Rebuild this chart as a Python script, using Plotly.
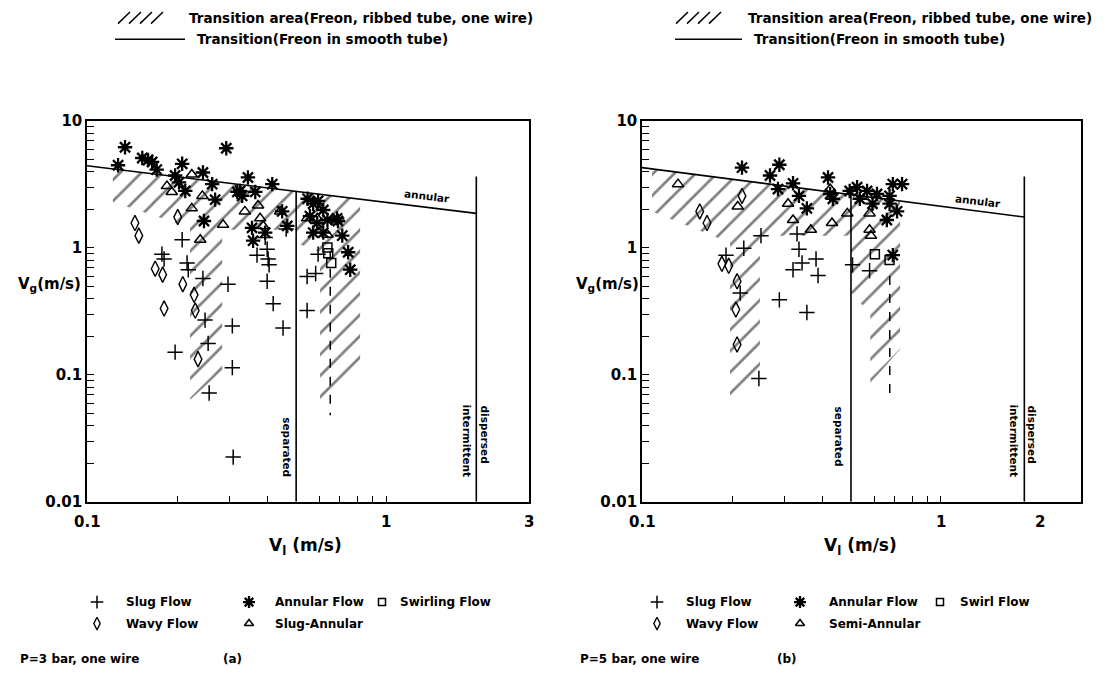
import math
import plotly.graph_objects as go

W, H = 1108, 689
FONT = "DejaVu Sans"

# ---------------- panel (a): P=3 bar ----------------
a_slug_x = [0.208, 0.178, 0.181, 0.216, 0.218, 0.244, 0.296, 0.370, 0.394, 0.400, 0.403, 0.406, 0.400, 0.419,
            0.463, 0.544, 0.581, 0.544, 0.592, 0.306, 0.452, 0.248, 0.254, 0.197, 0.306, 0.256, 0.308]
a_slug_y = [1.16, 0.893, 0.818, 0.762, 0.674, 0.575, 0.518, 0.877, 1.21, 0.975, 0.818, 0.736, 0.546, 0.364,
            1.41, 0.596, 0.628, 0.321, 0.893, 0.243, 0.234, 0.270, 0.177, 0.151, 0.114, 0.072, 0.0225]
a_annular_x = [0.134, 0.127, 0.153, 0.160, 0.165, 0.171, 0.208, 0.292, 0.197, 0.203, 0.213, 0.244, 0.262, 0.268,
               0.246, 0.318, 0.330, 0.325, 0.345, 0.365, 0.416, 0.356, 0.359, 0.394, 0.449, 0.467, 0.546, 0.570,
               0.592, 0.616, 0.556, 0.588, 0.636, 0.685, 0.690, 0.713, 0.570, 0.616, 0.746, 0.758]
a_annular_y = [6.21, 4.48, 5.11, 4.93, 4.76, 4.14, 4.60, 6.10, 3.72, 3.29, 2.81, 3.93, 3.18, 2.40,
               1.63, 2.76, 2.57, 2.81, 3.59, 2.76, 3.18, 1.44, 1.14, 1.32, 1.94, 1.49, 2.44, 2.23,
               2.35, 1.99, 1.78, 1.57, 1.66, 1.71, 1.63, 1.25, 1.32, 1.32, 0.925, 0.674]
a_slugann_x = [0.224, 0.185, 0.192, 0.243, 0.224, 0.285, 0.239, 0.337, 0.373, 0.379, 0.388, 0.442, 0.544, 0.588, 0.636]
a_slugann_y = [3.79, 3.07, 2.76, 2.57, 2.05, 1.52, 1.16, 1.94, 2.16, 1.71, 1.49, 1.94, 1.71, 1.71, 1.27]
a_wavy_x = [0.1446, 0.149, 0.201, 0.169, 0.179, 0.209, 0.181, 0.228, 0.230, 0.235]
a_wavy_y = [1.57, 1.25, 1.75, 0.686, 0.616, 0.518, 0.333, 0.427, 0.321, 0.133]
a_swirl_x = [0.636, 0.640, 0.655]
a_swirl_y = [1.01, 0.91, 0.762]

a_trans_smooth_x = [0.1, 2.0]
a_trans_smooth_y = [4.44, 1.87]
a_separated_x = [0.5, 0.5]
a_separated_y = [2.8, 0.01]
a_intermittent_x = [2.0, 2.0]
a_intermittent_y = [3.66, 0.01]
a_dashed_x = [0.65, 0.65]
a_dashed_y = [0.95, 0.048]
a_hatch1_x = [0.122, 0.5, 0.5, 0.283, 0.283, 0.221, 0.221, 0.122]
a_hatch1_y = [4.19, 2.79, 1.39, 1.39, 0.108, 0.0636, 1.45, 2.3]
a_hatch2_x = [0.5, 0.818, 0.818, 0.601, 0.601, 0.5]
a_hatch2_y = [2.79, 2.42, 0.1157, 0.0572, 0.925, 1.10]

# ---------------- panel (b): P=5 bar ----------------
b_slug_x = [0.250, 0.191, 0.219, 0.213, 0.330, 0.335, 0.343, 0.320, 0.382, 0.388, 0.288, 0.356, 0.506, 0.577, 0.246]
b_slug_y = [1.25, 0.877, 0.993, 0.442, 1.29, 0.975, 0.762, 0.674, 0.818, 0.607, 0.390, 0.310, 0.736, 0.662, 0.0937]
b_annular_x = [0.216, 0.288, 0.268, 0.285, 0.320, 0.335, 0.356, 0.419, 0.426, 0.435, 0.524, 0.566, 0.611, 0.673,
               0.690, 0.741, 0.673, 0.713, 0.659, 0.690, 0.495, 0.535, 0.590]
b_annular_y = [4.29, 4.52, 3.72, 2.91, 3.23, 2.57, 2.05, 3.59, 2.66, 2.44, 3.01, 2.81, 2.66, 2.57,
               3.18, 3.18, 2.23, 1.94, 1.66, 0.877, 2.81, 2.44, 2.23]
b_semiann_x = [0.132, 0.209, 0.308, 0.320, 0.367, 0.426, 0.432, 0.486, 0.577, 0.577, 0.583]
b_semiann_y = [3.18, 2.12, 2.23, 1.66, 1.39, 2.91, 1.57, 1.87, 1.87, 1.39, 1.25]
b_wavy_x = [0.156, 0.165, 0.216, 0.185, 0.195, 0.208, 0.206, 0.208]
b_wavy_y = [1.94, 1.57, 2.57, 0.749, 0.723, 0.546, 0.327, 0.1736]
b_swirl_x = [0.601, 0.673]
b_swirl_y = [0.893, 0.804]

b_trans_smooth_x = [0.1, 1.9]
b_trans_smooth_y = [4.29, 1.75]
b_separated_x = [0.5, 0.5]
b_separated_y = [2.62, 0.01]
b_intermittent_x = [1.9, 1.9]
b_intermittent_y = [3.66, 0.01]
b_dashed_x = [0.674, 0.674]
b_dashed_y = [0.6, 0.07]
b_hatch1_x = [0.108, 0.5, 0.5, 0.248, 0.248, 0.197, 0.197, 0.108]
b_hatch1_y = [4.19, 2.62, 1.25, 1.25, 0.106, 0.066, 1.10, 1.94]
b_hatch2_x = [0.5, 0.73, 0.73, 0.58, 0.58, 0.5]
b_hatch2_y = [2.62, 2.33, 0.159, 0.0858, 0.30, 0.45]

a_xtick_vals = [0.1, 1, 3]
a_xtick_text = ["0.1", "1", "3"]
b_xtick_vals = [0.1, 1, 2.15]
b_xtick_text = ["0.1", "1", "2"]
ytick_vals = [0.01, 0.1, 1, 10]
ytick_text = ["0.01", "0.1", "1", "10"]
x_tickmarks = [0.1, 0.2, 0.3, 0.4, 0.6, 0.7, 0.8, 0.9, 1]
y_minor = [m * d for d in (0.01, 0.1, 1) for m in range(2, 10)]

a_legend = [["Slug Flow", "Annular Flow", "Swirling Flow"], ["Wavy Flow", "Slug-Annular", ""]]
b_legend = [["Slug Flow", "Annular Flow", "Swirl Flow"], ["Wavy Flow", "Semi-Annular", ""]]

STY = {
    "slug": dict(symbol="cross-thin-open", size=11, line=dict(width=1.5, color="black"), color="black"),
    "annular": dict(symbol="asterisk-open", size=12, line=dict(width=2.3, color="black"), color="black"),
    "slugann": dict(symbol="triangle-up-open", size=10, line=dict(width=1.5, color="black"), color="black"),
    "wavy": dict(symbol="diamond-tall-open", size=11, line=dict(width=1.4, color="black"), color="black"),
    "swirl": dict(symbol="square-open", size=9, line=dict(width=1.5, color="black"), color="black"),
}

fig = go.Figure()


def panel(xa, ya, hatches, lines, dashed, series):
    for hx, hy in hatches:
        fig.add_trace(go.Scatter(x=hx, y=hy, xaxis=xa, yaxis=ya, mode="lines", fill="toself",
                                 fillcolor="rgba(0,0,0,0)", line=dict(width=0),
                                 fillpattern=dict(shape="/", size=15, solidity=0.18, fgcolor="black",
                                                  bgcolor="white"),
                                 hoverinfo="skip", showlegend=False))
    for lx, ly in lines:
        fig.add_trace(go.Scatter(x=lx, y=ly, xaxis=xa, yaxis=ya, mode="lines",
                                 line=dict(color="black", width=1.6), showlegend=False))
    fig.add_trace(go.Scatter(x=dashed[0], y=dashed[1], xaxis=xa, yaxis=ya, mode="lines",
                             line=dict(color="black", width=1.5, dash="dash"), showlegend=False))
    for key, sx, sy in series:
        fig.add_trace(go.Scatter(x=sx, y=sy, xaxis=xa, yaxis=ya, mode="markers",
                                 marker=STY[key], showlegend=False))


panel("x", "y", [(a_hatch1_x, a_hatch1_y), (a_hatch2_x, a_hatch2_y)],
      [(a_trans_smooth_x, a_trans_smooth_y), (a_separated_x, a_separated_y), (a_intermittent_x, a_intermittent_y)],
      (a_dashed_x, a_dashed_y),
      [("wavy", a_wavy_x, a_wavy_y), ("slugann", a_slugann_x, a_slugann_y), ("swirl", a_swirl_x, a_swirl_y),
       ("slug", a_slug_x, a_slug_y), ("annular", a_annular_x, a_annular_y)])
panel("x2", "y2", [(b_hatch1_x, b_hatch1_y), (b_hatch2_x, b_hatch2_y)],
      [(b_trans_smooth_x, b_trans_smooth_y), (b_separated_x, b_separated_y), (b_intermittent_x, b_intermittent_y)],
      (b_dashed_x, b_dashed_y),
      [("wavy", b_wavy_x, b_wavy_y), ("slugann", b_semiann_x, b_semiann_y), ("swirl", b_swirl_x, b_swirl_y),
       ("slug", b_slug_x, b_slug_y), ("annular", b_annular_x, b_annular_y)])


def P(px, py):
    return px / W, 1 - py / H


annotations = []


def txt(px, py, s, size=13, xanchor="center", angle=0):
    ax, ay = P(px, py)
    annotations.append(dict(x=ax, y=ay, xref="paper", yref="paper", text=s, showarrow=False,
                            xanchor=xanchor, yanchor="middle", textangle=angle,
                            font=dict(family=FONT, size=size, color="black")))


# bottom legends: symbols on a pixel-space overlay axis, labels as text
leg_keys = [["slug", "annular", "swirl"], ["wavy", "slugann", None]]
for (mx, tx, labels, row_y) in [
    ([97, 249, 382], [124, 273, 398], a_legend, [609, 631]),
    ([657, 800, 940], [684, 827, 958], b_legend, [609, 631]),
]:
    for r in range(2):
        for c in range(3):
            k = leg_keys[r][c]
            if k is None:
                continue
            fig.add_trace(go.Scatter(x=[mx[c]], y=[row_y[r]], xaxis="x3", yaxis="y3", mode="markers",
                                     marker=dict(STY[k], size=STY[k]["size"] - 2), showlegend=False))
            txt(tx[c], row_y[r], "<b>%s</b>" % labels[r][c], 12, "left")

# top legends
shapes = []
for hx, lx0, lx1, t1, t2 in [(118, 115, 185, 187, 195), (676, 675, 742, 746, 752)]:
    for i in range(4):
        x0, y0 = P(hx + 11 * i, 15)
        x1, y1 = P(hx + 12 + 11 * i, 3)
        shapes.append(dict(type="line", xref="paper", yref="paper", x0=x0, y0=y0, x1=x1, y1=y1,
                           line=dict(color="black", width=1.5)))
    x0, y0 = P(lx0, 31)
    x1, y1 = P(lx1, 31)
    shapes.append(dict(type="line", xref="paper", yref="paper", x0=x0, y0=y0, x1=x1, y1=y1,
                       line=dict(color="black", width=1.5)))
    txt(t1, 9, "<b>Transition area(Freon, ribbed tube, one wire)</b>", 13.5, "left")
    txt(t2, 31, "<b>Transition(Freon in smooth tube)</b>", 13.5, "left")

# axis titles and in-plot labels
txt(83, 283, "<b>V<sub>g</sub>(m/s)</b>", 15, "right")
txt(641, 283, "<b>V<sub>g</sub>(m/s)</b>", 15, "right")
txt(305, 552, "<b>V<sub>l</sub> (m/s)</b>", 17)
txt(860, 552, "<b>V<sub>l</sub> (m/s)</b>", 17)
txt(427, 192, "<b>annular</b>", 10.5, angle=7)
txt(978, 197, "<b>annular</b>", 10.5, angle=7)
txt(287, 450, "<b>separated</b>", 10.5, angle=90)
txt(839, 439, "<b>separated</b>", 10.5, angle=90)
txt(467, 443, "<b>intermittent</b>", 10.5, angle=90)
txt(485, 437, "<b>dispersed</b>", 10.5, angle=90)
txt(1014, 443, "<b>intermittent</b>", 10.5, angle=90)
txt(1032, 437, "<b>dispersed</b>", 10.5, angle=90)
txt(18, 667, "<b>P=3 bar, one wire</b>", 12, "left")
txt(232, 667, "<b>(a)</b>", 12)
txt(578, 667, "<b>P=5 bar, one wire</b>", 12, "left")
txt(787, 667, "<b>(b)</b>", 12)

# x tick labels as text placed on the log axes
for xa, vals, texts in [("x", a_xtick_vals, a_xtick_text), ("x2", b_xtick_vals, b_xtick_text)]:
    for v, t in zip(vals, texts):
        annotations.append(dict(x=math.log10(v), y=1 - 527 / H, xref=xa, yref="paper", text="<b>%s</b>" % t,
                                showarrow=False, xanchor="center", yanchor="middle",
                                font=dict(family=FONT, size=15, color="black")))

y_dom = [1 - 506 / H, 1 - 115 / H]


def xax(dom, rng, anchor):
    return dict(type="log", domain=dom, range=rng, anchor=anchor, showline=True, linecolor="black",
                linewidth=1.5, mirror=True, ticks="inside", ticklen=6, tickwidth=1.2, tickcolor="black",
                tickmode="array", tickvals=x_tickmarks, ticktext=["" for _ in x_tickmarks],
                showticklabels=False, showgrid=False, zeroline=False)


def yax(anchor):
    allv = sorted(ytick_vals + y_minor)
    labels = ["<b>%s</b>" % ytick_text[ytick_vals.index(v)] if v in ytick_vals else "" for v in allv]
    return dict(type="log", domain=y_dom, range=[-2, 1], anchor=anchor, showline=True, linecolor="black",
                linewidth=1.5, mirror=True, ticks="inside", ticklen=7, tickwidth=1.2, tickcolor="black",
                tickmode="array", tickvals=allv, ticktext=labels,
                tickfont=dict(family=FONT, size=15, color="black"),
                showgrid=False, zeroline=False)


fig.update_layout(
    width=W, height=H, autosize=False,
    margin=dict(l=0, r=0, t=0, b=0),
    paper_bgcolor="white", plot_bgcolor="rgba(0,0,0,0)",
    showlegend=False,
    xaxis=xax([87 / W, 529 / W], [-1, math.log10(3)], "y"),
    yaxis=yax("x"),
    xaxis2=xax([642 / W, 1081 / W], [-1, 0.4683], "y2"),
    yaxis2=yax("x2"),
    xaxis3=dict(domain=[0, 1], range=[0, W], visible=False, anchor="y3"),
    yaxis3=dict(domain=[0, 1], range=[H, 0], visible=False, anchor="x3"),
    annotations=annotations,
    shapes=shapes,
)

fig.write_html("out.html")
